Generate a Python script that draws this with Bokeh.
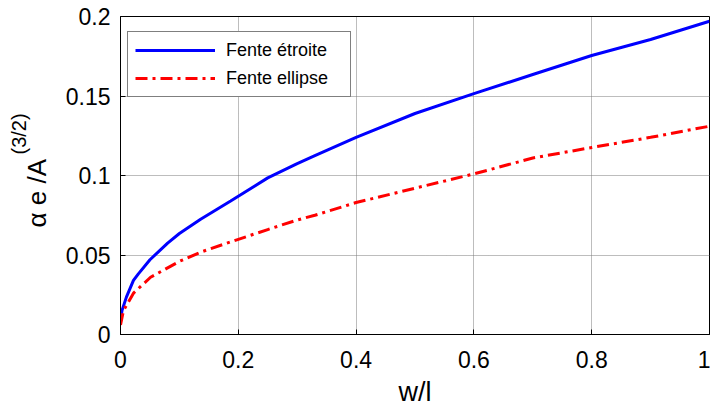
import math
from bokeh.plotting import figure
from bokeh.models import (Range1d, Legend, LegendItem, Label, FixedTicker,
                          NumeralTickFormatter)
from bokeh.embed import file_html
from bokeh.resources import INLINE

# ---- data ----
x_narrow = [0, 0.0025, 0.01, 0.022, 0.03, 0.05, 0.08, 0.1, 0.136, 0.187,
            0.25, 0.3, 0.33, 0.4, 0.5, 0.6, 0.7, 0.8, 0.9, 1.0]
y_narrow = [0.008, 0.015, 0.0235, 0.034, 0.038, 0.047, 0.0575, 0.0635, 0.0725, 0.084,
            0.0985, 0.1075, 0.1125, 0.124, 0.139, 0.1515, 0.1635, 0.1755, 0.1855, 0.197]

x_ellipse = [0, 0.005, 0.022, 0.051, 0.1, 0.136, 0.193, 0.25, 0.3, 0.33,
             0.4, 0.5, 0.6, 0.7, 0.8, 0.9, 1.0]
y_ellipse = [0.006, 0.015, 0.026, 0.036, 0.046, 0.0518, 0.059, 0.066, 0.072, 0.075,
             0.083, 0.092, 0.101, 0.111, 0.1176, 0.124, 0.131]

series_names = ["Fente étroite", "Fente ellipse"]
x_ticks = [0, 0.2, 0.4, 0.6, 0.8, 1]
y_ticks = [0, 0.05, 0.1, 0.15, 0.2]
x_label = "w/l"
y_label_main = "α e /A"
y_label_sup = "(3/2)"

FONT = "Liberation Sans"

p = figure(frame_width=589, frame_height=318,
           min_border_left=120, min_border_right=1,
           min_border_top=16, min_border_bottom=72,
           x_range=Range1d(0, 1), y_range=Range1d(0, 0.2),
           output_backend="svg", toolbar_location=None)

p.background_fill_color = "white"
p.border_fill_color = "white"
p.outline_line_color = "black"
p.outline_line_width = 1

r1 = p.line(x_narrow, y_narrow, line_color="#0000ff", line_width=3)
r2 = p.line(x_ellipse, y_ellipse, line_color="#ff0000", line_width=3,
            line_dash="12 5 3 5")

for ax in (p.xaxis[0], p.yaxis[0]):
    ax.axis_line_color = "black"
    ax.axis_line_width = 1
    ax.major_tick_in = 5
    ax.major_tick_out = 0
    ax.minor_tick_line_color = None
    ax.major_tick_line_color = "black"
    ax.major_label_text_font = FONT
    ax.major_label_text_font_size = "23px"
    ax.major_label_text_color = "black"

p.xaxis[0].ticker = FixedTicker(ticks=x_ticks)
p.yaxis[0].ticker = FixedTicker(ticks=y_ticks)
p.xaxis[0].formatter = NumeralTickFormatter(format="0.[0]")
p.yaxis[0].formatter = NumeralTickFormatter(format="0.[00]")
p.xaxis[0].major_label_standoff = 16
p.yaxis[0].major_label_standoff = 10

p.xaxis[0].axis_label = x_label
p.xaxis[0].axis_label_text_font = FONT
p.xaxis[0].axis_label_text_font_size = "27px"
p.xaxis[0].axis_label_text_font_style = "normal"
p.xaxis[0].axis_label_text_color = "black"
p.xaxis[0].axis_label_standoff = 6

for g in (p.xgrid[0], p.ygrid[0]):
    g.grid_line_color = "#7a7a7a"
    g.grid_line_dash = "1 1"
    g.grid_line_width = 1

# y axis label with superscript: rotated labels in a side panel (canvas coords)
p.add_layout(Label(x=36, y=227, x_units="canvas", y_units="canvas",
                   text=y_label_main, angle=math.pi / 2,
                   text_align="left", text_baseline="middle",
                   text_font=FONT, text_font_size="26px", text_color="black"), "left")
p.add_layout(Label(x=18, y=154, x_units="canvas", y_units="canvas",
                   text=y_label_sup, angle=math.pi / 2,
                   text_align="left", text_baseline="middle",
                   text_font=FONT, text_font_size="20px", text_color="black"), "left")

legend = Legend(items=[LegendItem(label=series_names[0], renderers=[r1]),
                       LegendItem(label=series_names[1], renderers=[r2])],
                location=(7, 237))
legend.padding = 7
legend.spacing = 6
legend.glyph_width = 80
legend.glyph_height = 22
legend.label_standoff = 11
legend.label_width = 117
legend.label_text_font = FONT
legend.label_text_font_size = "18px"
legend.label_text_color = "black"
legend.border_line_color = "black"
legend.border_line_width = 1
legend.background_fill_color = "white"
legend.background_fill_alpha = 1
p.add_layout(legend)

open("out.html", "w").write(file_html(p, INLINE))
